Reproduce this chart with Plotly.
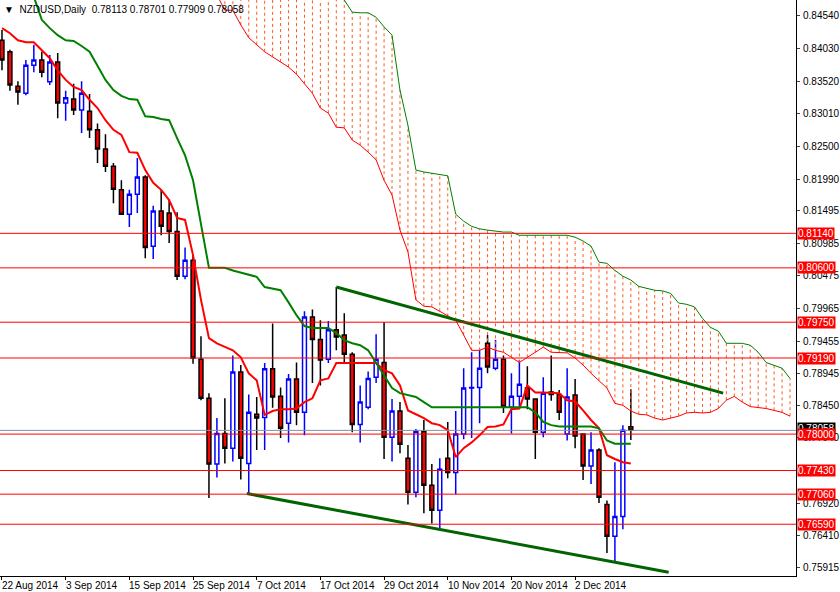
import plotly.graph_objects as go

# daily NZDUSD bars, 22 Aug 2014 .. 12 Dec 2014
opens = [0.8416, 0.8398, 0.8344, 0.8333, 0.8377, 0.8385, 0.8351, 0.8382, 0.8318, 0.8324,
         0.8307, 0.8305, 0.8276, 0.8246, 0.8219, 0.8182, 0.8144, 0.8175, 0.8202, 0.8094,
         0.8149, 0.8146, 0.8117, 0.8047, 0.8072, 0.7917, 0.7856, 0.7753, 0.7801, 0.7778,
         0.7897, 0.7754, 0.7831, 0.7826, 0.7902, 0.7859, 0.7817, 0.7886, 0.7834, 0.7983,
         0.7948, 0.7917, 0.7963, 0.7955, 0.7925, 0.7815, 0.7842, 0.7889, 0.7912, 0.7795,
         0.7836, 0.7762, 0.7709, 0.7804, 0.7720, 0.7681, 0.7762, 0.7740, 0.7800, 0.7872,
         0.7873, 0.7942, 0.7903, 0.7917, 0.7842, 0.7859, 0.7872, 0.7855, 0.7803, 0.7866,
         0.7862, 0.7800, 0.7861, 0.7800, 0.7750, 0.7775, 0.7690, 0.7640, 0.7671, 0.78113]
highs = [0.8432, 0.8401, 0.8352, 0.8385, 0.8409, 0.8398, 0.8393, 0.8396, 0.8337, 0.8348,
         0.8352, 0.8332, 0.8286, 0.8269, 0.8224, 0.8197, 0.8182, 0.8232, 0.8205, 0.8157,
         0.8182, 0.8166, 0.8147, 0.8092, 0.8080, 0.7953, 0.7864, 0.7825, 0.7856, 0.7923,
         0.7908, 0.7862, 0.7858, 0.7911, 0.7973, 0.7873, 0.7894, 0.7912, 0.7992, 0.7995,
         0.7978, 0.7977, 0.8030, 0.7989, 0.7928, 0.7876, 0.7898, 0.7956, 0.7975, 0.7855,
         0.7850, 0.7783, 0.7808, 0.7822, 0.7753, 0.7762, 0.7819, 0.7836, 0.7903, 0.7928,
         0.7931, 0.7955, 0.7947, 0.7923, 0.7895, 0.7916, 0.7906, 0.7855, 0.7889, 0.7923,
         0.7869, 0.7903, 0.7886, 0.7800, 0.7803, 0.7778, 0.7696, 0.7756, 0.7814, 0.78701]
lows = [0.8369, 0.8337, 0.8315, 0.8330, 0.8366, 0.8358, 0.8346, 0.8294, 0.8290, 0.8299,
        0.8271, 0.8263, 0.8224, 0.8210, 0.8161, 0.8143, 0.8124, 0.8146, 0.8075, 0.8074,
        0.8111, 0.8099, 0.8041, 0.8042, 0.7910, 0.7853, 0.7700, 0.7732, 0.7754, 0.7757,
        0.7729, 0.7707, 0.7775, 0.7775, 0.7841, 0.7794, 0.7787, 0.7814, 0.7798, 0.7880,
        0.7876, 0.7911, 0.7931, 0.7911, 0.7803, 0.7787, 0.7839, 0.7880, 0.7761, 0.7757,
        0.7770, 0.7690, 0.7701, 0.7676, 0.7660, 0.7653, 0.7731, 0.7706, 0.7792, 0.7794,
        0.7817, 0.7895, 0.7900, 0.7833, 0.7801, 0.7842, 0.7839, 0.7761, 0.7795, 0.7852,
        0.7822, 0.7790, 0.7778, 0.7728, 0.7722, 0.7692, 0.7614, 0.7600, 0.7651, 0.77909]
closes = [0.8385, 0.8346, 0.8335, 0.8377, 0.8385, 0.8366, 0.8382, 0.8318, 0.8326, 0.8307,
          0.8333, 0.8276, 0.8246, 0.8219, 0.8183, 0.8144, 0.8175, 0.8202, 0.8092, 0.8149,
          0.8125, 0.8117, 0.8047, 0.8072, 0.7919, 0.7856, 0.7753, 0.7801, 0.7778, 0.7897,
          0.7762, 0.7834, 0.7825, 0.7902, 0.7858, 0.7809, 0.7886, 0.7834, 0.7983, 0.7948,
          0.7916, 0.7963, 0.7952, 0.7925, 0.7815, 0.7850, 0.7887, 0.7917, 0.7795, 0.7836,
          0.7784, 0.7709, 0.7804, 0.7720, 0.7681, 0.7745, 0.7740, 0.7800, 0.7872, 0.7873,
          0.7903, 0.7905, 0.7917, 0.7843, 0.7859, 0.7878, 0.7855, 0.7803, 0.7864, 0.7862,
          0.7834, 0.7858, 0.7797, 0.7750, 0.7775, 0.7701, 0.7640, 0.7671, 0.7806, 0.78058]

tenkan = [0.8435, 0.8427, 0.8416, 0.8413, 0.8413, 0.8401, 0.8388, 0.8369, 0.8354, 0.8343,
          0.8338, 0.8323, 0.8310, 0.8291, 0.8276, 0.8268, 0.8241, 0.8240, 0.8213, 0.8193,
          0.8182, 0.8166, 0.8138, 0.8135, 0.8080, 0.8010, 0.7950, 0.7942, 0.7937, 0.7931,
          0.7920, 0.7895, 0.7884, 0.7830, 0.7836, 0.7839, 0.7839, 0.7840, 0.7850, 0.7856,
          0.7884, 0.7887, 0.7911, 0.7911, 0.7911, 0.7911, 0.7911, 0.7911, 0.7900, 0.7895,
          0.7876, 0.7837, 0.7831, 0.7825, 0.7817, 0.7814, 0.7806, 0.7764, 0.7778, 0.7787,
          0.7798, 0.7811, 0.7812, 0.7815, 0.7839, 0.7840, 0.7876, 0.7865, 0.7865, 0.7865,
          0.7864, 0.7853, 0.7851, 0.7837, 0.7822, 0.7809, 0.7767, 0.7761, 0.7756, 0.7754]
kijun = [0.8526, 0.8518, 0.8502, 0.8492, 0.8484, 0.8448, 0.8435, 0.8424, 0.8416, 0.8415,
         0.8407, 0.8398, 0.8376, 0.8354, 0.8338, 0.8329, 0.8324, 0.8323, 0.8297, 0.8296,
         0.8293, 0.8291, 0.8263, 0.8236, 0.8197, 0.8127, 0.8060, 0.8060, 0.8060, 0.8056,
         0.8053, 0.8050, 0.8046, 0.8030, 0.8028, 0.8025, 0.8006, 0.7986, 0.7969, 0.7966,
         0.7966, 0.7966, 0.7958, 0.7947, 0.7942, 0.7939, 0.7931, 0.7911, 0.7892, 0.7872,
         0.7864, 0.7861, 0.7858, 0.7850, 0.7842, 0.7842, 0.7842, 0.7842, 0.7842, 0.7842,
         0.7842, 0.7842, 0.7842, 0.7842, 0.7842, 0.7842, 0.7842, 0.7834, 0.7819, 0.7814,
         0.7812, 0.7812, 0.7812, 0.7812, 0.7812, 0.7809, 0.7790, 0.7785, 0.7785, 0.7785]

# cloud starts at bar 27 and runs 26 bars past the last candle
cloud_start = 27
span_a = [0.8487, 0.8463, 0.8463, 0.8440, 0.8420, 0.8409, 0.8398, 0.8390, 0.8382, 0.8374,
          0.8363, 0.8348, 0.8333, 0.8310, 0.8302, 0.8280, 0.8279, 0.8260, 0.8252, 0.8241,
          0.8229, 0.8197, 0.8174, 0.8119, 0.8085, 0.8010, 0.8000, 0.7999, 0.7992, 0.7984,
          0.7978, 0.7955, 0.7931, 0.7931, 0.7936, 0.7931, 0.7928, 0.7920, 0.7912, 0.7920,
          0.7928, 0.7936, 0.7928, 0.7927, 0.7927, 0.7919, 0.7908, 0.7895, 0.7884, 0.7872,
          0.7848, 0.7845, 0.7836, 0.7831, 0.7830, 0.7825, 0.7822, 0.7825, 0.7828, 0.7833,
          0.7834, 0.7833, 0.7834, 0.7840, 0.7853, 0.7859, 0.7850, 0.7843, 0.7842, 0.7840,
          0.7837, 0.7834, 0.7828]
span_b = [0.8714, 0.8698, 0.8682, 0.8667, 0.8651, 0.8636, 0.8620, 0.8604, 0.8589, 0.8573,
          0.8557, 0.8545, 0.8534, 0.8523, 0.8510, 0.8498, 0.8479, 0.8460, 0.8459, 0.8459,
          0.8452, 0.8437, 0.8424, 0.8338, 0.8283, 0.8213, 0.8210, 0.8208, 0.8207, 0.8204,
          0.8144, 0.8133, 0.8125, 0.8121, 0.8119, 0.8117, 0.8116, 0.8116, 0.8111, 0.8111,
          0.8111, 0.8111, 0.8111, 0.8111, 0.8111, 0.8108, 0.8102, 0.8094, 0.8069, 0.8067,
          0.8056, 0.8047, 0.8041, 0.8031, 0.8028, 0.8025, 0.8024, 0.8020, 0.8005, 0.8003,
          0.7999, 0.7981, 0.7967, 0.7961, 0.7942, 0.7942, 0.7942, 0.7939, 0.7928, 0.7912,
          0.7908, 0.7903, 0.7887]

levels = [0.8114, 0.8060, 0.7975, 0.7919, 0.7800, 0.7743, 0.7706, 0.7659]
bid = 0.78058

# drawn trend lines: (bar, price) pairs
upper_trend = [(42, 0.8030), (90.6, 0.7864)]
lower_trend = [(30.75, 0.7707), (83.75, 0.7584)]

date_labels = ["22 Aug 2014", "3 Sep 2014", "15 Sep 2014", "25 Sep 2014", "7 Oct 2014",
               "17 Oct 2014", "29 Oct 2014", "10 Nov 2014", "20 Nov 2014", "2 Dec 2014"]
date_bars = [0, 8, 16, 24, 32, 40, 48, 56, 64, 72]

price_ticks = [0.84540, 0.84030, 0.83520, 0.83010, 0.82500, 0.81990, 0.81495, 0.80985,
               0.80475, 0.79965, 0.79455, 0.78945, 0.78450, 0.77940, 0.76920, 0.76410, 0.75915]

bars = list(range(len(opens)))
cloud_x = [cloud_start + i for i in range(len(span_a))]

fig = go.Figure()

# cloud hatching
hx, hy = [], []
for x, a, b in zip(cloud_x, span_a, span_b):
    hx += [x, x, None]
    hy += [a, b, None]
fig.add_trace(go.Scatter(x=hx, y=hy, mode="lines", line=dict(color="#FF5A1E", width=1, dash="3px,3px"),
                         hoverinfo="skip"))
fig.add_trace(go.Scatter(x=cloud_x, y=span_a, mode="lines", line=dict(color="#FF0000", width=1)))
fig.add_trace(go.Scatter(x=cloud_x, y=span_b, mode="lines", line=dict(color="#008000", width=1)))

for lv in levels:
    fig.add_hline(y=lv, line=dict(color="#FF0000", width=1))
fig.add_hline(y=bid, line=dict(color="#8090A0", width=1))

fig.add_trace(go.Candlestick(
    x=bars, open=opens, high=highs, low=lows, close=closes,
    increasing=dict(line=dict(color="#0000FF", width=1.5), fillcolor="white"),
    decreasing=dict(line=dict(color="#000000", width=1.5), fillcolor="#FF0000"),
    whiskerwidth=0,
))

fig.add_trace(go.Scatter(x=bars, y=tenkan, mode="lines", line=dict(color="#FF0000", width=2)))
fig.add_trace(go.Scatter(x=bars, y=kijun, mode="lines", line=dict(color="#008000", width=2)))

for tl in (upper_trend, lower_trend):
    fig.add_trace(go.Scatter(x=[p[0] for p in tl], y=[p[1] for p in tl], mode="lines",
                             line=dict(color="#006400", width=3)))

# price boxes on the right scale
fig.add_annotation(x=1, xref="paper", y=bid, yref="y", text=f"{bid:.5f}", showarrow=False,
                   xanchor="left", xshift=1, yshift=2, bgcolor="black",
                   font=dict(color="white", size=10), borderpad=0)
for lv in levels:
    fig.add_annotation(x=1, xref="paper", y=lv, yref="y", text=f"{lv:.5f}", showarrow=False,
                       xanchor="left", xshift=1, bgcolor="#FF0000", font=dict(color="white", size=10),
                       borderpad=0)

fig.add_annotation(x=0.003, xref="paper", y=0.997, yref="paper", xanchor="left", yanchor="top",
                   showarrow=False, font=dict(size=10, color="#000000"),
                   text="▼  NZDUSD,Daily  0.78113 0.78701 0.77909 0.78058")

for b, lab in zip(date_bars, date_labels):
    fig.add_annotation(x=b - 0.25, xref="x", y=0, yref="paper", yanchor="top", xanchor="left",
                       yshift=-2, showarrow=False, text=lab, font=dict(size=10, color="black"))

fig.update_layout(
    width=840, height=592, margin=dict(l=0, r=38, t=0, b=16),
    paper_bgcolor="white", plot_bgcolor="white", showlegend=False,
    font=dict(family="Liberation Sans", size=10, color="black"),
    xaxis=dict(range=[-0.25, 99.75], showgrid=False, zeroline=False, showticklabels=False,
               rangeslider=dict(visible=False), showline=True, linecolor="black",
               tickvals=date_bars, ticks="outside", ticklen=3, tickcolor="black"),
    yaxis=dict(range=[0.7578, 0.8479], side="right", showgrid=False, zeroline=False,
               tickvals=price_ticks, tickformat=".5f", ticks="outside", ticklen=3,
               ticklabelstandoff=1, showline=True, linecolor="black",
               tickfont=dict(size=10)),
)

fig.write_html("out.html", config={"displayModeBar": False},
               post_script="document.body.style.margin='0';")
